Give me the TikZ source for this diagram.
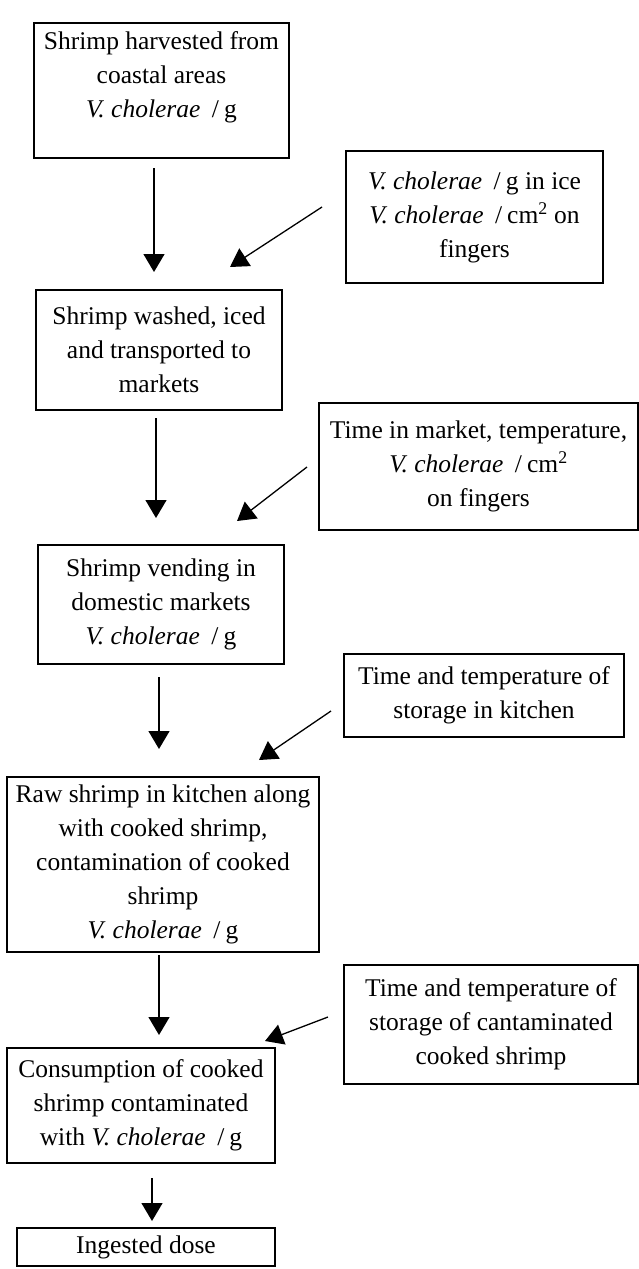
\documentclass[tikz,border=0pt]{standalone}
\usepackage{fontspec}
\setmainfont{Liberation Serif}
\usetikzlibrary{arrows.meta}
\newcommand\vchol{\textit{V. cholerae}\hspace{0.45em}/\hspace{0.2em}}
\begin{document}
\begin{tikzpicture}[x=1pt,y=-1pt,
 box/.style={draw, line width=1.4pt, inner sep=0pt, align=center, font=\fontsize{25.5}{34}\selectfont},
 txt/.style={inner sep=0pt, align=center, font=\fontsize{25.5}{34}\selectfont},
 arr/.style={line width=1.3pt, -{Triangle[length=18pt,width=21pt]}}]
\useasboundingbox (0,0) rectangle (639,1269);
% main column
\node[box, minimum width=255, minimum height=135] (b1) at (161.5,90.5) {};
\node[txt] (b1t) at (161.5,77) {Shrimp harvested from\\coastal areas\\\vchol g};
\node[box, minimum width=246, minimum height=120] (b2) at (159,350) {Shrimp washed, iced\\and transported to\\markets};
\node[box, minimum width=246, minimum height=119] (b3) at (161,604.5) {Shrimp vending in\\domestic markets\\\vchol g};
\node[box, minimum width=312, minimum height=175] (b4) at (163,864.5) {Raw shrimp in kitchen along\\with cooked shrimp,\\contamination of cooked\\shrimp\\\vchol g};
\node[box, minimum width=268, minimum height=115] (b5) at (141,1105.5) {Consumption of cooked\\shrimp contaminated\\with \vchol g};
\node[box, minimum width=258, minimum height=38] (b6) at (146,1247) {Ingested dose};
% side column
\node[box, minimum width=257, minimum height=132] (r1) at (474.5,217) {\vchol g in ice\\\vchol cm\textsuperscript{2} on\\fingers};
\node[box, minimum width=319, minimum height=127] (r2) at (478.5,466.5) {Time in market, temperature,\\\vchol cm\textsuperscript{2}\\on fingers};
\node[box, minimum width=280, minimum height=83] (r3) at (484,695.5) {Time and temperature of\\storage in kitchen};
\node[box, minimum width=294, minimum height=119] (r4) at (491,1024.5) {Time and temperature of\\storage of cantaminated\\cooked shrimp};
% arrow end points
\coordinate (v1s) at (154,168);  \coordinate (v1e) at (154,272);
\coordinate (v2s) at (156,418);  \coordinate (v2e) at (156,518);
\coordinate (v3s) at (159,677);  \coordinate (v3e) at (159,749);
\coordinate (v4s) at (159,955);  \coordinate (v4e) at (159,1035);
\coordinate (v5s) at (152,1178); \coordinate (v5e) at (152,1221);
\coordinate (d1s) at (322,207);  \coordinate (d1e) at (230,267);
\coordinate (d2s) at (307,467);  \coordinate (d2e) at (237,521);
\coordinate (d3s) at (331,711);  \coordinate (d3e) at (259,760);
\coordinate (d4s) at (328,1017); \coordinate (d4e) at (265,1041);
\draw[arr] (v1s) -- (v1e);
\draw[arr] (v2s) -- (v2e);
\draw[arr] (v3s) -- (v3e);
\draw[arr] (v4s) -- (v4e);
\draw[arr] (v5s) -- (v5e);
\draw[arr] (d1s) -- (d1e);
\draw[arr] (d2s) -- (d2e);
\draw[arr] (d3s) -- (d3e);
\draw[arr] (d4s) -- (d4e);
\end{tikzpicture}
\end{document}
